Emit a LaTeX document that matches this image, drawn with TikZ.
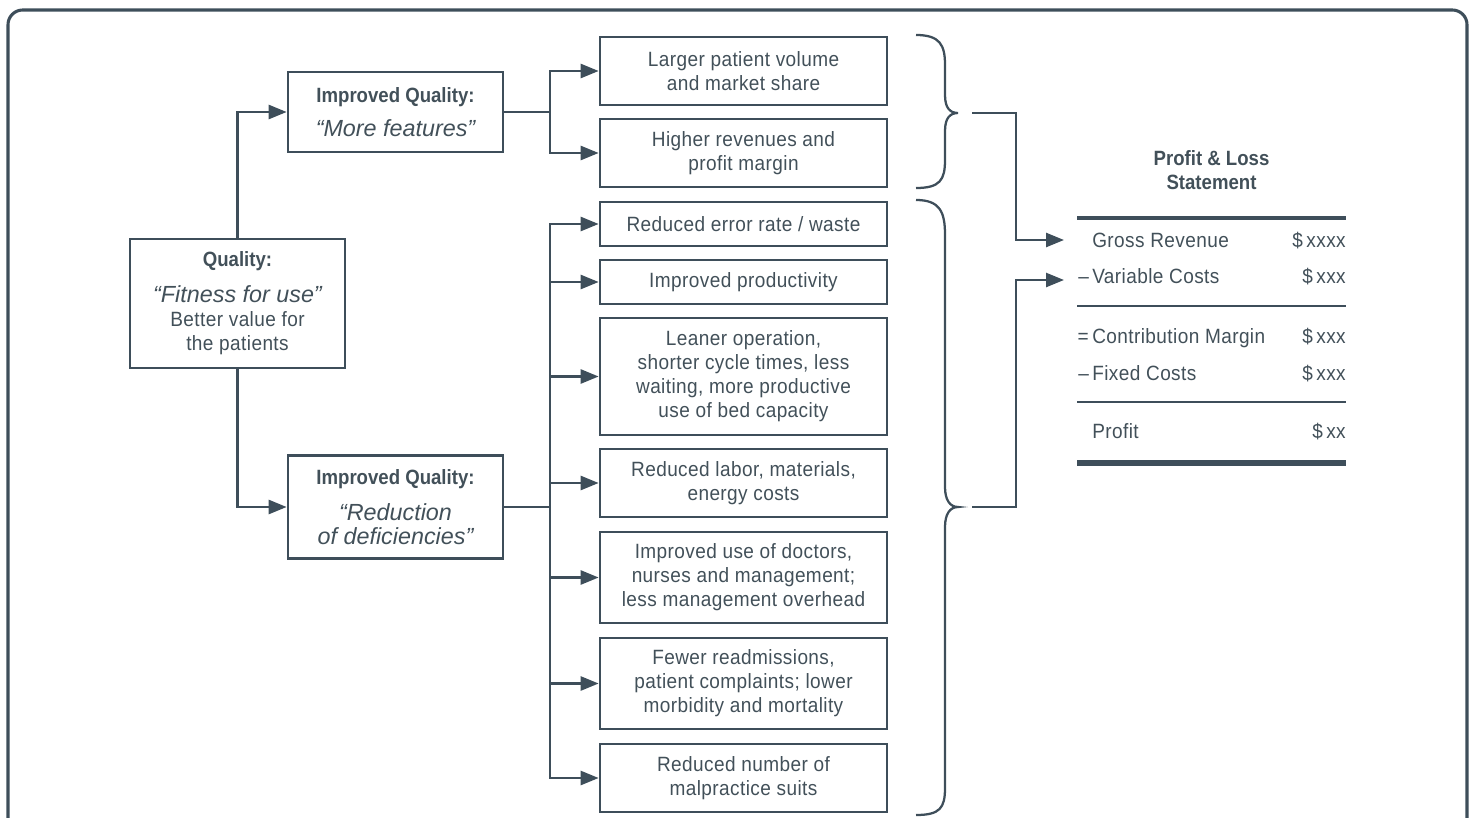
\documentclass[tikz,border=0pt]{standalone}
\usepackage{fontspec}
\setmainfont{Liberation Sans}[FakeStretch=0.92,LetterSpace=2,BoldFeatures={FakeStretch=0.9,LetterSpace=0},ItalicFeatures={FakeStretch=1,LetterSpace=0}]
\usetikzlibrary{arrows.meta}
\definecolor{ink}{HTML}{3E4E5A}
\definecolor{txt}{HTML}{425059}
\newcommand{\qit}[1]{{\fontsize{17.5}{18}\selectfont\itshape #1}}
\begin{document}
\begin{tikzpicture}[x=0.75pt,y=-0.75pt,
  every node/.style={text=txt, font=\fontsize{15.5}{18}\selectfont},
  box/.style={draw=ink, line width=2pt, align=center, inner sep=0pt, minimum width=161.25pt},
  rbox/.style={box, minimum width=215.25pt},
  conn/.style={draw=ink, line width=1.9pt},
  arr/.style={conn, -{Triangle[length=13.5pt,width=10.5pt]}},
  brace/.style={draw=ink, line width=1.7pt},
  rule/.style={draw=ink},
  row/.style={inner sep=0pt, anchor=mid west},
  val/.style={inner sep=0pt, anchor=mid east}
]
\useasboundingbox (0,0) rectangle (1473,817);
% outer frame
\draw[ink, line width=2.3pt, rounded corners=11pt] (8,830) -- (8,10) -- (1467,10) -- (1467,830);

% left column
\node[box, minimum height=96.75pt] (quality) at (237.5,303.5)
  {\textbf{Quality:}\\[9pt]\qit{“Fitness for use”}\\Better value for\\the patients};
\node[box, minimum height=60pt] (iq1) at (395.5,112)
  {\textbf{Improved Quality:}\\[7.5pt]\qit{“More features”}};
\node[box, minimum height=77.25pt] (iq2) at (395.5,507)
  {\textbf{Improved Quality:}\\[9pt]\qit{“Reduction}\\\qit{of deficiencies”}};

% right column
\node[rbox, minimum height=51pt] (A) at (743.5,71) {Larger patient volume\\and market share};
\node[rbox, minimum height=51pt] (B) at (743.5,153) {Higher revenues and\\profit margin};
\node[rbox, minimum height=33pt] (C) at (743.5,224) {Reduced error rate / waste};
\node[rbox, minimum height=33pt] (D) at (743.5,282) {Improved productivity};
\node[rbox, minimum height=87.75pt] (E) at (743.5,376.5) {Leaner operation,\\shorter cycle times, less\\waiting, more productive\\use of bed capacity};
\node[rbox, minimum height=51pt] (F) at (743.5,483) {Reduced labor, materials,\\energy costs};
\node[rbox, minimum height=68.25pt] (G) at (743.5,577.5) {Improved use of doctors,\\nurses and management;\\less management overhead};
\node[rbox, minimum height=68.25pt] (H) at (743.5,683.5) {Fewer readmissions,\\patient complaints; lower\\morbidity and mortality};
\node[rbox, minimum height=51pt] (I) at (743.5,778) {Reduced number of\\malpractice suits};

% connectors left
\draw[arr] (quality.north) |- (iq1.west);
\draw[arr] (quality.south) |- (iq2.west);
\coordinate (s1) at (550,112);
\coordinate (s2) at (550,507);
\draw[conn] (iq1.east) -- (s1);
\draw[conn] (iq2.east) -- (s2);
\foreach \n in {A,B} \draw[arr] (s1) |- (\n.west);
\foreach \n in {C,D,E,F,G,H,I} \draw[arr] (s2) |- (\n.west);

% braces
\draw[brace] (916,35) .. controls (940,35) and (945,45) .. (945,65) -- (945,95)
  .. controls (945,108) and (950,113) .. (958,113)
  .. controls (950,113) and (945,118) .. (945,131) -- (945,160)
  .. controls (945,180) and (940,188) .. (916,188);
\draw[brace] (916,200) .. controls (940,200) and (945,212) .. (945,235) -- (945,487)
  .. controls (945,500) and (950,507) .. (958,507)
  .. controls (950,507) and (945,514) .. (945,527) -- (945,788)
  .. controls (945,808) and (940,815) .. (916,815);

% P&L statement
\node[font=\bfseries\fontsize{15.5}{18}\selectfont, align=center] (pltitle) at (1211.5,170) {Profit \& Loss\\Statement};
\draw[rule, line width=2.8pt] (1077,218) -- (1346,218);
\node[row] (gross) at (1092,244) {Gross Revenue};
\node[val] (grossv) at (1346,244) {\$\,xxxx};
\node[row] (var) at (1092,280) {\llap{–\,}Variable Costs};
\node[val] (varv) at (1346,280) {\$\,xxx};
\draw[rule, line width=2.1pt] (1077,306) -- (1346,306);
\node[row] (contrib) at (1092,340) {\llap{=\,}Contribution Margin};
\node[val] (contribv) at (1346,340) {\$\,xxx};
\node[row] (fixed) at (1092,377) {\llap{–\,}Fixed Costs};
\node[val] (fixedv) at (1346,377) {\$\,xxx};
\draw[rule, line width=2.1pt] (1077,402) -- (1346,402);
\node[row] (profit) at (1092,435) {Profit};
\node[val] (profitv) at (1346,435) {\$\,xx};
\draw[rule, line width=4pt] (1077,463) -- (1346,463);

% brace connectors
\coordinate (b1) at (972,113);
\coordinate (j1) at (1016,113);
\coordinate (in1) at (1064,240);
\coordinate (b2) at (972,507);
\coordinate (j2) at (1016,507);
\coordinate (in2) at (1064,280);
\draw[arr] (b1) -- (j1) |- (in1);
\draw[arr] (b2) -- (j2) |- (in2);
\end{tikzpicture}
\end{document}
